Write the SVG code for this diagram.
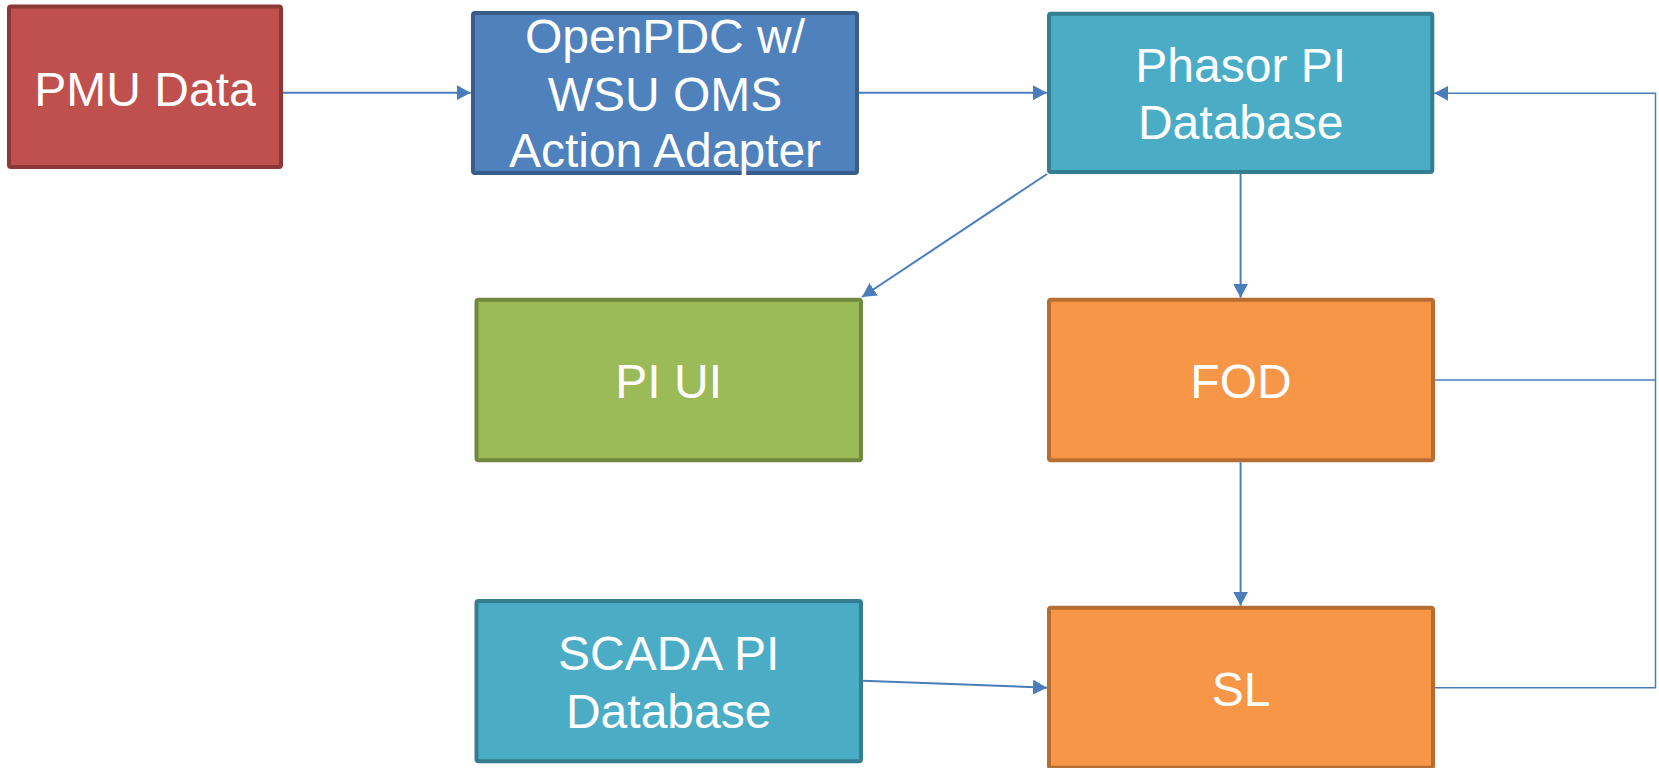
<svg xmlns="http://www.w3.org/2000/svg" width="1659" height="768" viewBox="0 0 1659 768">
<defs>
<style>
.box{stroke-width:4;}
.red{fill:#C0504D;stroke:#8C3836;}
.blue{fill:#4F81BD;stroke:#385D8A;}
.aqua{fill:#4BACC6;stroke:#357D91;}
.green{fill:#9BBB59;stroke:#71893F;}
.orange{fill:#F79646;stroke:#B66D31;}
.lbl{font-family:"Liberation Sans",Arial,sans-serif;font-size:48px;fill:#FFFFFF;text-anchor:middle;}
.con{fill:none;stroke:#4A7EBB;stroke-width:2;}
.thin{fill:none;stroke:#4A7EBB;stroke-width:1.5;}
</style>
<marker id="arr" viewBox="0 0 14 15" refX="14" refY="7.5" markerWidth="14" markerHeight="15" markerUnits="userSpaceOnUse" orient="auto">
<path d="M0,0 L14,7.5 L0,15 z" fill="#4A7EBB"/>
</marker>
</defs>
<rect width="1659" height="768" fill="#FFFFFF"/>
<g id="connectors">
<path class="con" d="M283 92.7 H470.7" marker-end="url(#arr)"/>
<path class="con" d="M859 92.7 H1047" marker-end="url(#arr)"/>
<path class="con" d="M1047 174 L862 297" marker-end="url(#arr)"/>
<path class="con" d="M1240.6 174 V297.7" marker-end="url(#arr)"/>
<path class="con" d="M1240.6 462.3 V605.7" marker-end="url(#arr)"/>
<path class="con" d="M863 680.7 L1047 687.7" marker-end="url(#arr)"/>
<path class="thin" d="M1435 380 H1655.5"/>
<path class="thin" d="M1435 687.7 H1655.5 V93.3 H1434.3" marker-end="url(#arr)"/>
</g>
<g id="pmu">
<rect class="box red" x="9" y="6.5" width="272" height="160.5" rx="2"/>
<text class="lbl" x="145" y="106">PMU Data</text>
</g>
<g id="openpdc">
<rect class="box blue" x="473" y="13" width="384" height="160" rx="2"/>
<text class="lbl" x="665" y="53.3">OpenPDC w/</text>
<text class="lbl" x="665" y="111">WSU OMS</text>
<text class="lbl" x="665" y="166.7">Action Adapter</text>
</g>
<g id="phasor">
<rect class="box aqua" x="1049" y="13.7" width="383.3" height="158.3" rx="2"/>
<text class="lbl" x="1240.7" y="81.7">Phasor PI</text>
<text class="lbl" x="1240.7" y="139.3">Database</text>
</g>
<g id="piui">
<rect class="box green" x="476.5" y="299.7" width="384.5" height="160.6" rx="2"/>
<text class="lbl" x="668.7" y="397.7">PI UI</text>
</g>
<g id="fod">
<rect class="box orange" x="1049" y="299.7" width="384" height="160.6" rx="2"/>
<text class="lbl" x="1241" y="397.7">FOD</text>
</g>
<g id="scada">
<rect class="box aqua" x="476.5" y="601" width="384.5" height="160.3" rx="2"/>
<text class="lbl" x="668.7" y="670">SCADA PI</text>
<text class="lbl" x="668.7" y="728.3">Database</text>
</g>
<g id="sl">
<rect class="box orange" x="1049" y="607.7" width="384" height="160" rx="2"/>
<text class="lbl" x="1241" y="706">SL</text>
</g>
</svg>
